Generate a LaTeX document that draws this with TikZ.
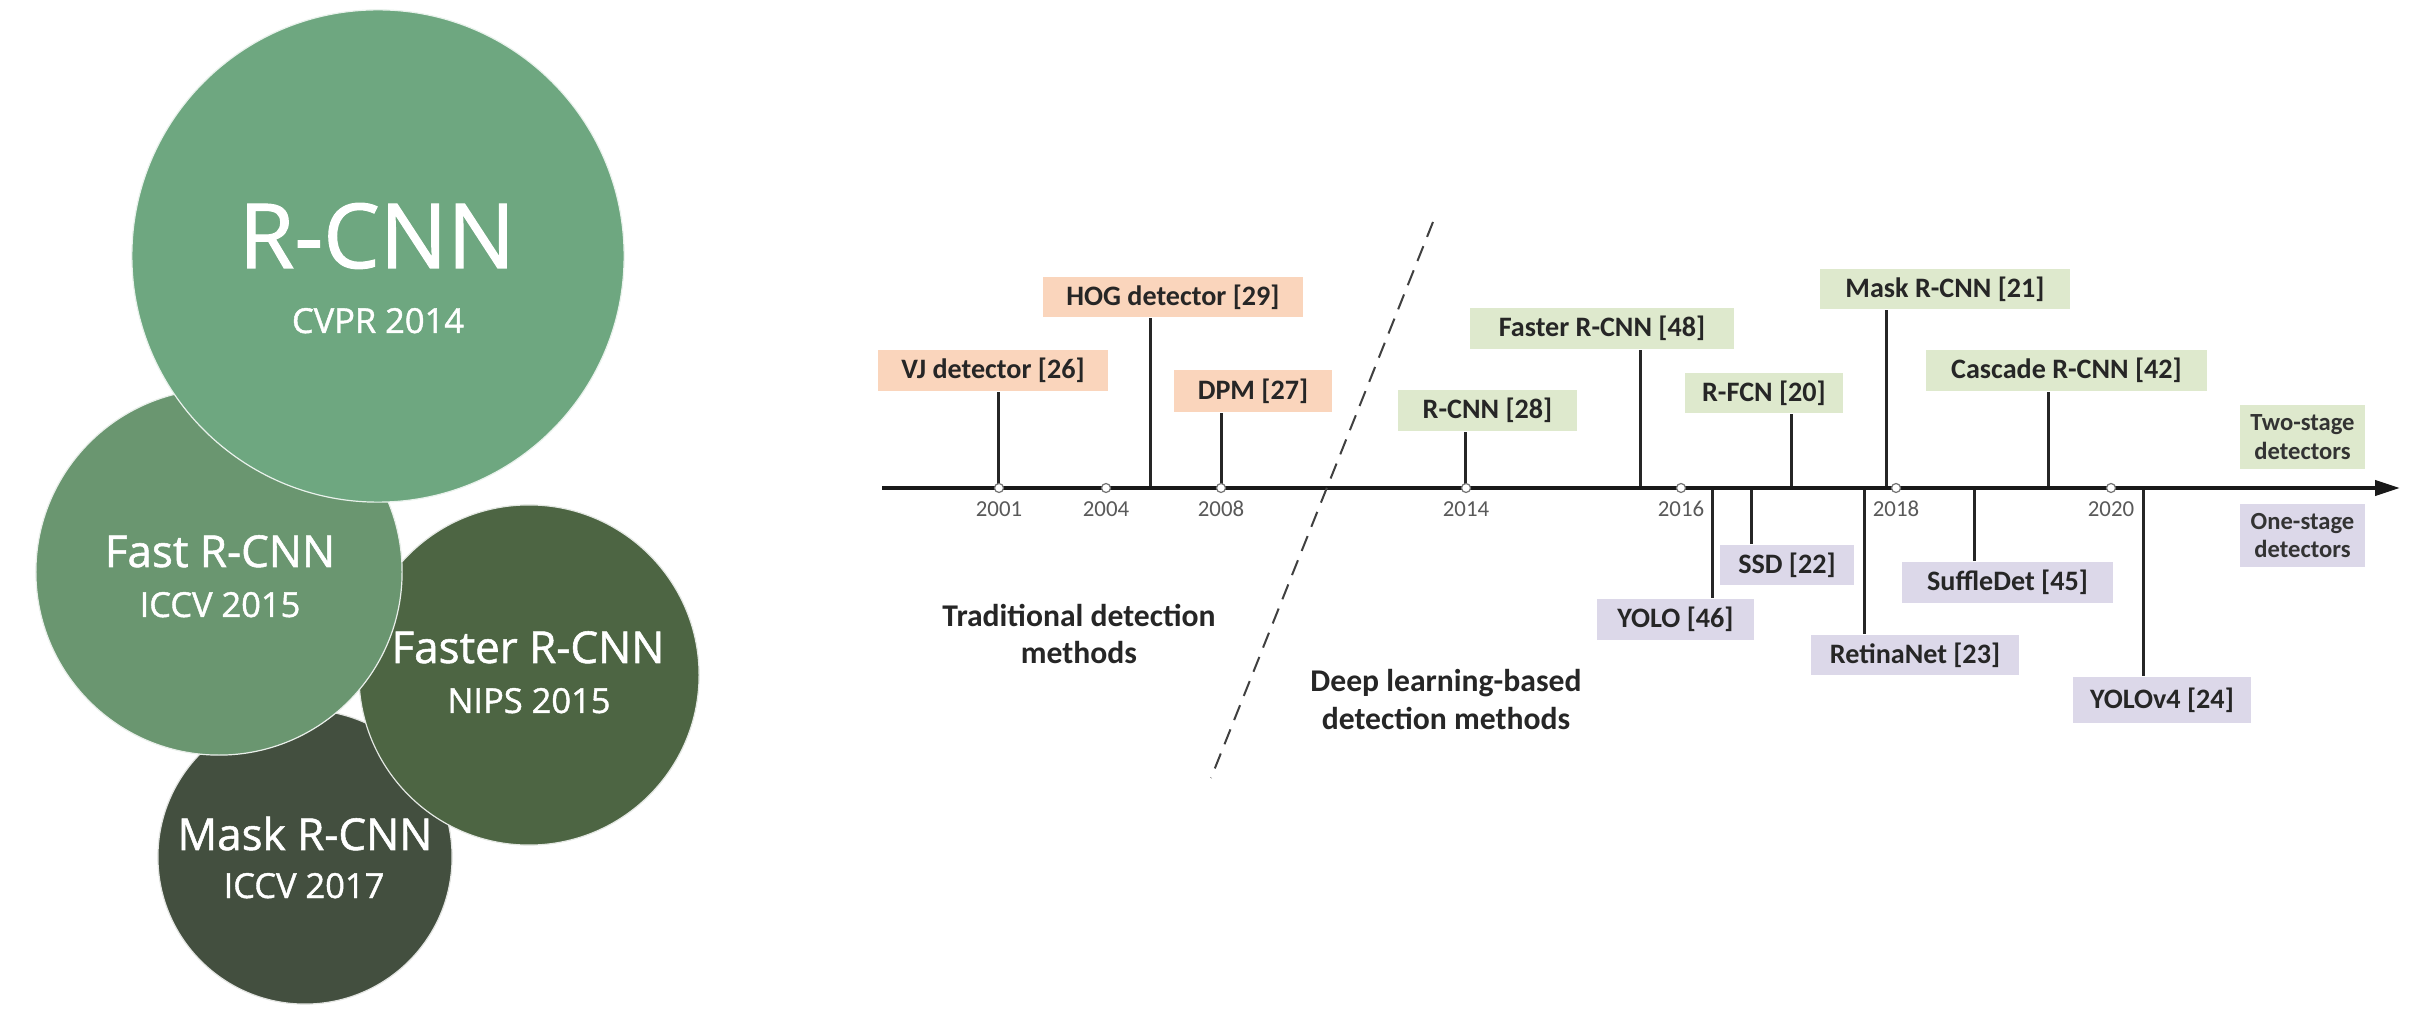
\documentclass[tikz,border=0pt]{standalone}
\usepackage{fontspec}
\setmainfont{Carlito}
\newfontfamily\bubfont[FakeBold=1.2]{Open Sans}
\usetikzlibrary{arrows.meta}

\definecolor{rcnncol}{RGB}{110,167,128}
\definecolor{fastcol}{RGB}{106,150,112}
\definecolor{fastercol}{RGB}{77,101,67}
\definecolor{maskcol}{RGB}{67,79,63}
\definecolor{tradcol}{RGB}{250,213,188}
\definecolor{twocol}{RGB}{222,233,205}
\definecolor{onecol}{RGB}{220,216,233}

\tikzset{
  bubble/.style={circle, fill=#1, draw=white!85!#1, line width=0.012cm, inner sep=0pt},
  bubname/.style={text=white, anchor=base, inner sep=0pt, font=\bubfont\fontsize{12.5}{15}\selectfont},
  bubvenue/.style={text=white, anchor=base, inner sep=0pt, font=\bubfont\fontsize{9.8}{12}\selectfont},
  tag/.style={fill=#1, inner sep=0pt, text=black!85, font=\bfseries\fontsize{8}{9.6}\selectfont},
  legendbox/.style={fill=#1, inner sep=0pt, align=center, text=black!80,
    minimum width=1.25cm, font=\bfseries\fontsize{7}{8.2}\selectfont},
  stem/.style={line width=0.03cm, black!85},
  yeartick/.style={circle, fill=white, draw=black!55, line width=0.012cm, minimum size=0.09cm, inner sep=0pt},
  yearlbl/.style={text=black!65, inner sep=0pt, font=\fontsize{6.5}{8}\selectfont},
  methods/.style={align=center, inner sep=0pt, text=black!85, font=\bfseries\fontsize{9}{10.8}\selectfont}
}

\begin{document}
\begin{tikzpicture}[x=0.01cm, y=-0.01cm]
	%%%%% FRAME %%%%%
	\fill[white] (0,0) rectangle (2412,1010);
	\useasboundingbox (0,0) rectangle (2412,1010);
	
	%%%%% BUBBLES %%%%%
	\node[bubble=maskcol, minimum size=2.94cm] (bmask) at (305,857) {};
	\node[bubble=fastercol, minimum size=3.40cm] (bfaster) at (529,675) {};
	\node[bubble=fastcol, minimum size=3.66cm] (bfast) at (219,572) {};
	\node[bubble=rcnncol, minimum size=4.92cm] (brcnn) at (378,256) {};
	
	\node[bubname, font=\bubfont\fontsize{25.5}{30}\selectfont] (nrcnn) at (377,268) {R-CNN};
	\node[bubvenue] (vrcnn) at (378,333) {CVPR 2014};
	\node[bubname] (nfast) at (220,567) {Fast R-CNN};
	\node[bubvenue] (vfast) at (220,617) {ICCV 2015};
	\node[bubname] (nfaster) at (528,663) {Faster R-CNN};
	\node[bubvenue] (vfaster) at (529,713) {NIPS 2015};
	\node[bubname] (nmask) at (305,850) {Mask R-CNN};
	\node[bubvenue] (vmask) at (304,898) {ICCV 2017};
	
	%%%%% TIMELINE %%%%%
	\coordinate (ax0) at (882,488);
	\coordinate (ax1) at (2400,488);
	
	% two-stage and traditional (above the axis)
	\node[tag=tradcol, minimum width=2.30cm, minimum height=0.41cm] (vj) at (993,370.5) {VJ detector [26]};
	\node[tag=tradcol, minimum width=2.60cm, minimum height=0.40cm] (hog) at (1173,297) {HOG detector [29]};
	\node[tag=tradcol, minimum width=1.58cm, minimum height=0.42cm] (dpm) at (1253,391) {DPM [27]};
	\node[tag=twocol, minimum width=1.79cm, minimum height=0.41cm] (rcnn) at (1487.5,410.5) {R-CNN [28]};
	\node[tag=twocol, minimum width=2.64cm, minimum height=0.41cm] (faster) at (1602,328.5) {Faster R-CNN [48]};
	\node[tag=twocol, minimum width=1.58cm, minimum height=0.40cm] (rfcn) at (1764,393) {R-FCN [20]};
	\node[tag=twocol, minimum width=2.50cm, minimum height=0.40cm] (mask) at (1945,289) {Mask R-CNN [21]};
	\node[tag=twocol, minimum width=2.81cm, minimum height=0.41cm] (cascade) at (2066.5,370.5) {Cascade R-CNN [42]};
	
	% one-stage (below the axis)
	\node[tag=onecol, minimum width=1.57cm, minimum height=0.41cm] (yolo) at (1675.5,619.5) {YOLO [46]};
	\node[tag=onecol, minimum width=1.34cm, minimum height=0.40cm] (ssd) at (1787,565) {SSD [22]};
	\node[tag=onecol, minimum width=2.08cm, minimum height=0.40cm] (retina) at (1915,655) {RetinaNet [23]};
	\node[tag=onecol, minimum width=2.11cm, minimum height=0.41cm] (suffle) at (2007.5,582.5) {SuffleDet [45]};
	\node[tag=onecol, minimum width=1.78cm, minimum height=0.46cm] (yolov4) at (2162,700) {YOLOv4 [24]};
	
	\node[legendbox=twocol, minimum height=0.64cm] (twostage) at (2302.5,437) {Two-stage\\detectors};
	\node[legendbox=onecol, minimum height=0.63cm] (onestage) at (2302.5,535.5) {One-stage\\detectors};
	
	% stems
	\coordinate (s1) at (998,488);
	\coordinate (s2) at (1150,488);
	\coordinate (s3) at (1221,488);
	\coordinate (s4) at (1465,488);
	\coordinate (s5) at (1640,488);
	\coordinate (s6) at (1791,488);
	\coordinate (s7) at (1886,488);
	\coordinate (s8) at (2048,488);
	\coordinate (s9) at (1712,488);
	\coordinate (s10) at (1751,488);
	\coordinate (s11) at (1864,488);
	\coordinate (s12) at (1974,488);
	\coordinate (s13) at (2143,488);
	
	\draw[stem] (s1) -- (s1 |- vj.south);
	\draw[stem] (s2) -- (s2 |- hog.south);
	\draw[stem] (s3) -- (s3 |- dpm.south);
	\draw[stem] (s4) -- (s4 |- rcnn.south);
	\draw[stem] (s5) -- (s5 |- faster.south);
	\draw[stem] (s6) -- (s6 |- rfcn.south);
	\draw[stem] (s7) -- (s7 |- mask.south);
	\draw[stem] (s8) -- (s8 |- cascade.south);
	\draw[stem] (s9) -- (s9 |- yolo.north);
	\draw[stem] (s10) -- (s10 |- ssd.north);
	\draw[stem] (s11) -- (s11 |- retina.north);
	\draw[stem] (s12) -- (s12 |- suffle.north);
	\draw[stem] (s13) -- (s13 |- yolov4.north);
	
	\draw[line width=0.04cm, black!90, -{Triangle[length=0.25cm, width=0.15cm]}] (ax0) -- (ax1);
	
	% years
	\foreach \yr/\xx in {2001/999, 2004/1106, 2008/1221, 2014/1466, 2016/1681, 2018/1896, 2020/2111} {
		\node[yeartick] (t\yr) at (\xx,488) {};
		\node[yearlbl] (y\yr) at (\xx,509) {\yr};
	}
	
	%%%%% ERAS %%%%%
	\coordinate (d0) at (1433,222);
	\coordinate (d1) at (1211,778);
	\draw[dash pattern=on 0.16cm off 0.10cm, line width=0.02cm, black!75] (d0) -- (d1);
	
	\node[methods] (trad) at (1079,634) {Traditional detection\\methods};
	\node[methods] (deep) at (1446,700) {Deep learning-based\\detection methods};
\end{tikzpicture}
\end{document}
